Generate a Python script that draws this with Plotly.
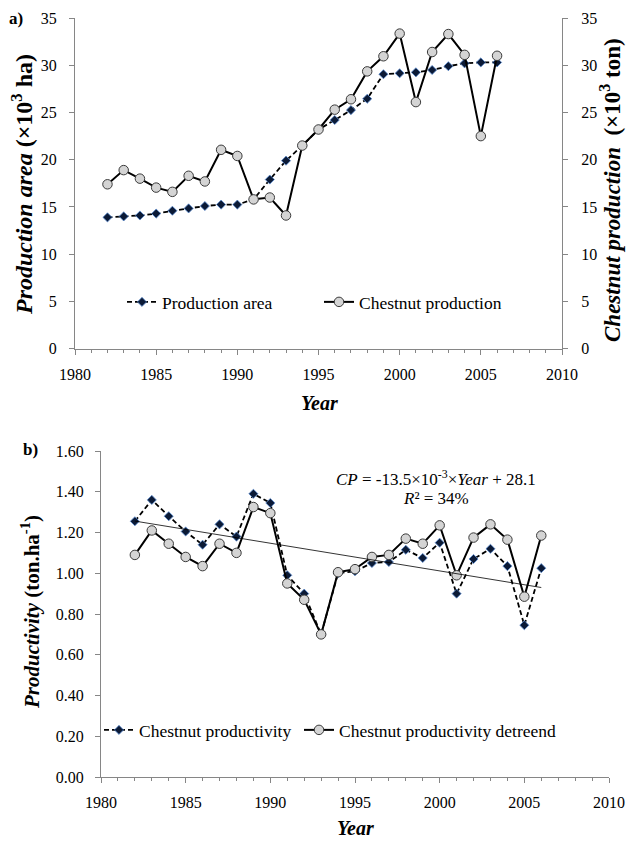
import plotly.graph_objects as go

W, H = 628, 843

# ---------------- data ----------------
years = list(range(1982, 2007))

production_area = [13.9, 14.0, 14.1, 14.3, 14.6, 14.85, 15.1, 15.25, 15.25, 15.8,
                   17.9, 19.9, 21.5, 23.2, 24.2, 25.25, 26.45, 29.05, 29.15, 29.25,
                   29.5, 29.9, 30.2, 30.3, 30.3]

chestnut_production = [17.4, 18.9, 18.0, 17.05, 16.6, 18.3, 17.7, 21.05, 20.4, 15.8,
                       16.0, 14.1, 21.5, 23.2, 25.3, 26.4, 29.35, 30.95, 33.35, 26.1,
                       31.4, 33.3, 31.1, 22.5, 31.0]

chestnut_productivity = [1.255, 1.36, 1.28, 1.205, 1.14, 1.24, 1.18, 1.39, 1.345, 0.99,
                         0.90, 0.70, 1.00, 1.01, 1.05, 1.055, 1.115, 1.075, 1.15, 0.90,
                         1.07, 1.12, 1.035, 0.745, 1.025]

productivity_detrend = [1.09, 1.21, 1.145, 1.08, 1.035, 1.145, 1.10, 1.325, 1.295, 0.95,
                        0.87, 0.70, 1.005, 1.02, 1.08, 1.09, 1.17, 1.145, 1.235, 0.99,
                        1.175, 1.24, 1.165, 0.885, 1.185]

trend_years = [1982, 2006]
trend_values = [1.256, 0.93]

area_ticks = [0, 5, 10, 15, 20, 25, 30, 35]
prod_ticks = [0.0, 0.2, 0.4, 0.6, 0.8, 1.0, 1.2, 1.4, 1.6]
year_ticks = [1980, 1985, 1990, 1995, 2000, 2005, 2010]

# ---------------- helpers (page pixels -> paper fractions) ----------------
def px(x):
    return x / W

def py(y):
    return 1 - y / H

FONT = "Times New Roman, Liberation Serif, DejaVu Serif, serif"
AXIS_COLOR = "#868686"
DIAMOND = dict(symbol="diamond", size=7, color="#0b1a36",
               line=dict(color="#5b8bd0", width=0.8))
CIRCLE = dict(symbol="circle", size=9.5, color="#d4d4d4",
              line=dict(color="#3a3a3a", width=1))

fig = go.Figure()

# panel a
fig.add_trace(go.Scatter(x=years, y=production_area, mode="lines+markers",
                         name="Production area",
                         line=dict(color="black", width=1.8, dash="5px,3px"),
                         marker=DIAMOND, xaxis="x", yaxis="y", legend="legend"))
fig.add_trace(go.Scatter(x=years, y=chestnut_production, mode="lines+markers",
                         name="Chestnut production",
                         line=dict(color="black", width=2),
                         marker=CIRCLE, xaxis="x", yaxis="y2", legend="legend2"))

# panel b
fig.add_trace(go.Scatter(x=years, y=chestnut_productivity, mode="lines+markers",
                         name="Chestnut productivity",
                         line=dict(color="black", width=1.8, dash="5px,3px"),
                         marker=DIAMOND, xaxis="x2", yaxis="y3", legend="legend3"))
fig.add_trace(go.Scatter(x=years, y=productivity_detrend, mode="lines+markers",
                         name="Chestnut productivity detreend",
                         line=dict(color="black", width=2),
                         marker=CIRCLE, xaxis="x2", yaxis="y3", legend="legend4"))
fig.add_trace(go.Scatter(x=trend_years, y=trend_values, mode="lines",
                         line=dict(color="black", width=0.8),
                         showlegend=False, hoverinfo="skip",
                         xaxis="x2", yaxis="y3"))

tickfont = dict(family=FONT, size=16, color="black")

def xaxis_style(domain, anchor):
    return dict(domain=domain, anchor=anchor, range=[1980, 2010], automargin=False,
                tickvals=year_ticks, ticks="outside", ticklen=5, tickcolor=AXIS_COLOR,
                showline=True, linecolor=AXIS_COLOR, linewidth=1,
                showgrid=False, zeroline=False, tickfont=tickfont,
                ticklabelstandoff=6,
                minor=dict(dtick=1, ticks="outside", ticklen=3, tickcolor=AXIS_COLOR,
                           showgrid=False))

def yaxis_style(domain, anchor, rng, ticks, standoff, **kw):
    d = dict(domain=domain, anchor=anchor, range=rng, tickvals=ticks, automargin=False,
             ticks="outside", ticklen=5, tickcolor=AXIS_COLOR,
             showline=True, linecolor=AXIS_COLOR, linewidth=1,
             showgrid=False, zeroline=False, tickfont=tickfont,
             ticklabelstandoff=standoff)
    d.update(kw)
    return d

xa_dom = [px(75), px(562)]
xb_dom = [px(101), px(609)]
ya_dom = [py(348.7), py(18)]
yb_dom = [py(777), py(451)]

legend_font = dict(family=FONT, size=17.5, color="black")

def legend_at(text_x, y):
    return dict(orientation="h", x=px(text_x - 41), y=py(y), xanchor="left",
                yanchor="middle", font=legend_font, bgcolor="rgba(0,0,0,0)",
                itemwidth=30)

fig.update_layout(
    width=W, height=H,
    margin=dict(l=0, r=0, t=0, b=0, autoexpand=False),
    paper_bgcolor="white", plot_bgcolor="white",
    font=dict(family=FONT, size=16, color="black"),
    xaxis=xaxis_style(xa_dom, "y"),
    xaxis2=xaxis_style(xb_dom, "y3"),
    yaxis=yaxis_style(ya_dom, "x", [0, 35], area_ticks, 9),
    yaxis2=yaxis_style(ya_dom, "x", [0, 35], area_ticks, 10,
                       overlaying="y", side="right"),
    yaxis3=yaxis_style(yb_dom, "x2", [0, 1.6], prod_ticks, 8, tickformat=".2f"),
    legend=legend_at(163, 302),
    legend2=legend_at(360, 302),
    legend3=legend_at(140, 730),
    legend4=legend_at(340, 730),
)

ann = []
def add_text(text, x, y, size, angle=0):
    ann.append(dict(text=text, x=px(x), y=py(y), xref="paper", yref="paper",
                    showarrow=False, textangle=angle,
                    font=dict(family=FONT, size=size, color="black"),
                    xanchor="center", yanchor="middle"))

add_text("<b><i>Production area</i> (×10<sup>3</sup> ha)</b>", 22, 185, 24, -90)
add_text("<b><i>Chestnut production</i>  (×10<sup>3</sup> ton)</b>", 611, 190, 23, -90)
add_text("<b><i>Year</i></b>", 319, 403, 20)
add_text("<b><i>Productivity</i> (ton.ha<sup>-1</sup>)</b>", 30, 612, 21, -90)
add_text("<b><i>Year</i></b>", 355, 828, 20)
add_text("<b>a)</b>", 16, 18, 17)
add_text("<b>b)</b>", 30, 450, 17)
add_text("<i>CP</i> = -13.5×10<sup>-3</sup>×<i>Year</i> + 28.1", 436, 478, 17)
add_text("<i>R</i>² = 34%", 436, 498, 17)
fig.update_layout(annotations=ann)

fig.write_html("out.html",
               config={"displayModeBar": False},
               post_script="document.body.style.margin='0';"
                           "document.body.style.overflow='hidden';")
